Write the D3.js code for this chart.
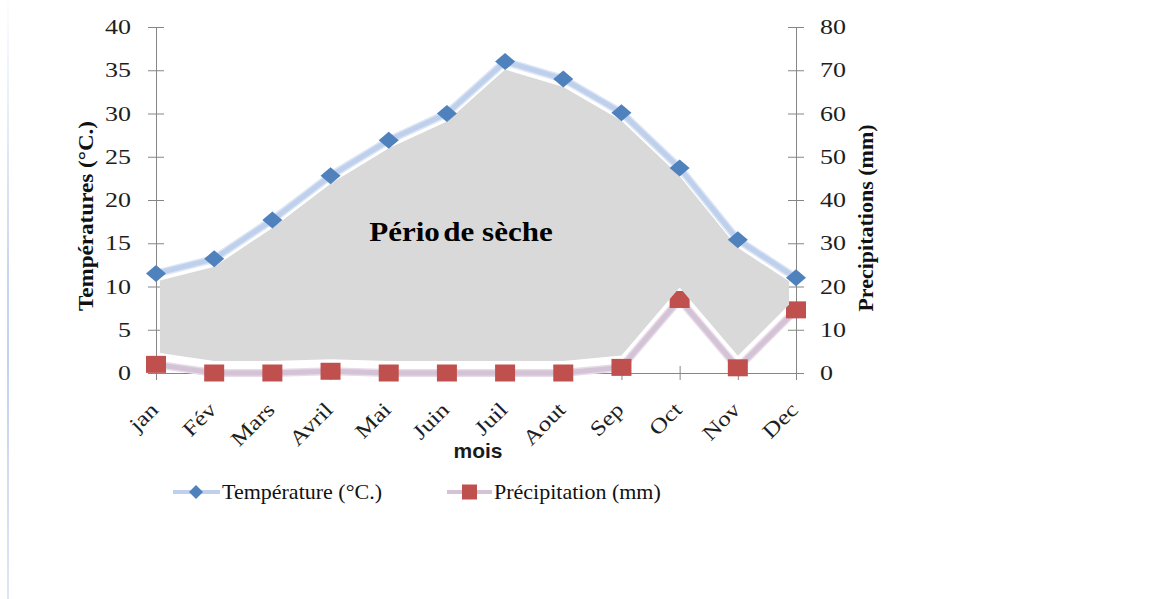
<!DOCTYPE html>
<html>
<head>
<meta charset="utf-8">
<script src="https://cdn.jsdelivr.net/npm/d3@7"></script>
<style>
  html, body { margin: 0; padding: 0; background: #ffffff; }
  svg { display: block; }
</style>
</head>
<body>
<script>
// Monthly climate data (ombrothermic diagram)
const months = ["jan", "Fév", "Mars", "Avril", "Mai", "Juin", "Juil", "Aout", "Sep", "Oct", "Nov", "Dec"];
const temperature = [11.5, 13.2, 17.7, 22.8, 26.9, 30.0, 36.0, 34.0, 30.1, 23.7, 15.4, 11.0];
const precipitation = [2.0, 0.0, 0.0, 0.4, 0.0, 0.0, 0.0, 0.0, 1.3, 17.0, 1.2, 14.6];
const tempTicks = [0, 5, 10, 15, 20, 25, 30, 35, 40];
const precipTicks = [0, 10, 20, 30, 40, 50, 60, 70, 80];

const W = 1156, H = 599;
const serif = "'Liberation Serif', 'Times New Roman', serif";
const sans = "'Liberation Sans', Arial, sans-serif";

const svg = d3.select("body").append("svg").attr("width", W).attr("height", H);
const defs = svg.append("defs");

// faint decorative rule on the left edge
const grad = defs.append("linearGradient").attr("id", "edgeFade")
  .attr("x1", 0).attr("y1", 0).attr("x2", 0).attr("y2", 1);
grad.append("stop").attr("offset", "0%").attr("stop-color", "#c4d2ee").attr("stop-opacity", 0.05);
grad.append("stop").attr("offset", "45%").attr("stop-color", "#c4d2ee").attr("stop-opacity", 0.9);
grad.append("stop").attr("offset", "60%").attr("stop-color", "#c4d2ee").attr("stop-opacity", 1);
grad.append("stop").attr("offset", "100%").attr("stop-color", "#c4d2ee").attr("stop-opacity", 0.55);
svg.append("rect").attr("x", 7).attr("y", 0).attr("width", 2).attr("height", H).attr("fill", "url(#edgeFade)");

// scales
const x = d3.scalePoint().domain(months).range([156, 796]);
const yT = d3.scaleLinear().domain([0, 40]).range([373, 27]);
const yP = d3.scaleLinear().domain([0, 80]).range([373, 27]);

const rows = months.map((m, i) => ({ m, t: temperature[i], p: precipitation[i] }));

// ---- axes ----
const axisColor = "#868686";
const gL = svg.append("g").attr("transform", `translate(${x.range()[0]},0)`)
  .call(d3.axisLeft(yT).tickValues(tempTicks).tickSize(8).tickSizeOuter(0));
gL.selectAll(".tick line").attr("x1", 8);
gL.selectAll(".tick text")
  .attr("x", null).attr("dy", null)
  .attr("transform", "translate(-25,6.5) scale(1.3,1)");

const gR = svg.append("g").attr("transform", `translate(${x.range()[1]},0)`)
  .call(d3.axisRight(yP).tickValues(precipTicks).tickSize(8).tickSizeOuter(0));
gR.selectAll(".tick line").attr("x1", -8);
gR.selectAll(".tick text")
  .attr("x", null).attr("dy", null).attr("text-anchor", "start")
  .attr("transform", "translate(24,6.5) scale(1.3,1)");

const gB = svg.append("g").attr("transform", `translate(0,${yT(0)})`)
  .call(d3.axisBottom(x).tickSize(7).tickSizeOuter(0));
gB.selectAll(".tick line").attr("y1", -7);

[gL, gR, gB].forEach(g => {
  g.select(".domain").attr("stroke", axisColor).attr("stroke-width", 1);
  g.selectAll(".tick line").attr("stroke", axisColor).attr("stroke-width", 1);
  g.selectAll(".tick text").attr("fill", "#1e1e1e")
    .style("font-family", serif).style("font-size", "20px");
});
gB.selectAll(".tick text")
  .attr("y", null).attr("dy", null).attr("text-anchor", "end")
  .style("font-size", "21px")
  .attr("transform", "translate(3,38) rotate(-45) scale(1.2,1)");

// axis titles
svg.append("text")
  .attr("transform", "translate(93,216) rotate(-90) scale(1.05,1)")
  .attr("text-anchor", "middle")
  .style("font-family", serif).style("font-size", "22px").style("font-weight", "bold")
  .attr("fill", "#111")
  .text("Températures (°C.)");

svg.append("text")
  .attr("transform", "translate(873,218) rotate(-90)")
  .attr("text-anchor", "middle")
  .style("font-family", serif).style("font-size", "22px").style("font-weight", "bold")
  .attr("fill", "#111")
  .text("Precipitations (mm)");

svg.append("text")
  .attr("x", 478).attr("y", 458)
  .attr("text-anchor", "middle")
  .style("font-family", sans).style("font-size", "21px").style("font-weight", "bold")
  .attr("fill", "#1a1a1a")
  .text("mois");

// ---- precipitation series ----
const lineP = d3.line().x(d => x(d.m)).y(d => yP(d.p));
svg.append("path").datum(rows).attr("d", lineP)
  .attr("fill", "none").attr("stroke", "#e6dbe6").attr("stroke-width", 8).attr("stroke-linejoin", "round");
svg.append("path").datum(rows).attr("d", lineP)
  .attr("fill", "none").attr("stroke", "#d4c2d6").attr("stroke-width", 5).attr("stroke-linejoin", "round");

const sqW = 20, sqH = 17;
svg.append("g").selectAll("rect").data(rows).join("rect")
  .attr("x", d => x(d.m) - sqW / 2).attr("y", d => yP(d.p) - sqH / 2)
  .attr("width", sqW).attr("height", sqH)
  .attr("fill", "#c0504d");

// ---- dry period: area between the two curves (P = 2T) ----
defs.append("clipPath").attr("id", "dryClip")
  .append("rect").attr("x", x("jan") + 4).attr("y", 0)
  .attr("width", x("Dec") - x("jan") - 11).attr("height", H);

const dryArea = d3.area()
  .x(d => x(d.m))
  .y0(d => yP(d.p) - 12)
  .y1(d => yT(d.t) + 8);
svg.append("path").datum(rows).attr("d", dryArea)
  .attr("clip-path", "url(#dryClip)")
  .attr("fill", "#d9d9d9");

const label = svg.append("text")
  .attr("transform", "translate(461,241) scale(1.15,1)")
  .attr("text-anchor", "middle")
  .style("font-family", serif).style("font-size", "27px").style("font-weight", "bold")
  .attr("fill", "#000");
label.append("tspan").text("Pério");
label.append("tspan").attr("dx", 3).text("de sèche");

// ---- temperature series ----
const lineT = d3.line().x(d => x(d.m)).y(d => yT(d.t));
svg.append("path").datum(rows).attr("d", lineT)
  .attr("fill", "none").attr("stroke", "#ffffff").attr("stroke-width", 10).attr("stroke-linejoin", "round");
svg.append("path").datum(rows).attr("d", lineT)
  .attr("fill", "none").attr("stroke", "#dbe5f4").attr("stroke-width", 8).attr("stroke-linejoin", "round");
svg.append("path").datum(rows).attr("d", lineT)
  .attr("fill", "none").attr("stroke", "#bed0ec").attr("stroke-width", 5).attr("stroke-linejoin", "round");

const dW = 20, dH = 17;
svg.append("g").selectAll("path").data(rows).join("path")
  .attr("d", d => {
    const cx = x(d.m), cy = yT(d.t);
    return `M${cx},${cy - dH / 2}L${cx + dW / 2},${cy}L${cx},${cy + dH / 2}L${cx - dW / 2},${cy}Z`;
  })
  .attr("fill", "#4f81bd");

// ---- legend ----
const legend = svg.append("g");
const legY = 492;
legend.append("line").attr("x1", 173).attr("x2", 220).attr("y1", legY).attr("y2", legY)
  .attr("stroke", "#bed0ec").attr("stroke-width", 4);
legend.append("path")
  .attr("d", `M196,${legY - 7}L203,${legY}L196,${legY + 7}L189,${legY}Z`)
  .attr("fill", "#4f81bd");
legend.append("text").attr("x", 222).attr("y", legY + 7)
  .style("font-family", serif).style("font-size", "22px").attr("fill", "#111")
  .text("Température (°C.)");

legend.append("line").attr("x1", 447).attr("x2", 492).attr("y1", legY).attr("y2", legY)
  .attr("stroke", "#d4c2d6").attr("stroke-width", 4);
legend.append("rect").attr("x", 462).attr("y", legY - 7.5).attr("width", 15).attr("height", 15)
  .attr("fill", "#c0504d");
legend.append("text").attr("x", 494).attr("y", legY + 7)
  .style("font-family", serif).style("font-size", "22px").attr("fill", "#111")
  .text("Précipitation (mm)");
</script>
</body>
</html>
